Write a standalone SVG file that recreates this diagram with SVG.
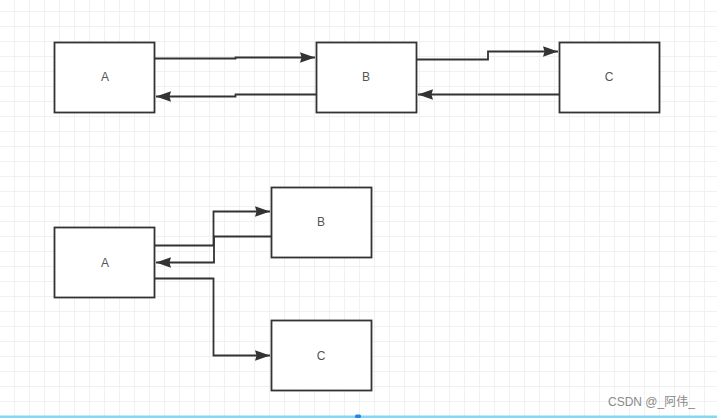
<svg xmlns="http://www.w3.org/2000/svg" width="717" height="418" viewBox="0 0 717 418">
  <defs>
    <pattern id="grid" x="0" y="12" width="15" height="15" patternUnits="userSpaceOnUse">
      <path d="M15 0 V15 M0 15 H15" fill="none" stroke="#ededed" stroke-width="1.5"/>
    </pattern>
    <marker id="arrow" markerUnits="userSpaceOnUse" markerWidth="16" markerHeight="12" refX="15" refY="6" orient="auto">
      <path d="M0,0.8 L15,6 L0,11.2 L1.5,6 Z" fill="#333"/>
    </marker>
    <style>
      .box { fill: #ffffff; stroke: #333; stroke-width: 1.8; }
      .label { font-family: "Liberation Sans", Arial, sans-serif; font-size: 12px; fill: #555; text-anchor: middle; dominant-baseline: central; }
      .edge { fill: none; stroke: #333; stroke-width: 1.8; marker-end: url(#arrow); }
      .mark { font-family: "Liberation Sans", "Noto Sans CJK SC", sans-serif; font-size: 12px; fill: #8a8a8a; }
    </style>
  </defs>

  <!-- canvas -->
  <rect width="717" height="418" fill="#ffffff"/>
  <rect width="717" height="418" fill="url(#grid)"/>

  <!-- upper chain: A <-> B <-> C -->
  <g id="top-a"><rect class="box" x="54.5" y="42.5" width="100" height="70"/><text class="label" x="105" y="77">A</text></g>
  <g id="top-b"><rect class="box" x="316.5" y="42.5" width="100" height="70"/><text class="label" x="366" y="77">B</text></g>
  <g id="top-c"><rect class="box" x="559.5" y="42.5" width="100" height="70"/><text class="label" x="609" y="77">C</text></g>

  <!-- lower fan-out: A -> B, A -> C, B -> A -->
  <g id="bot-a"><rect class="box" x="54.5" y="227.5" width="100" height="70"/><text class="label" x="105" y="263">A</text></g>
  <g id="bot-b"><rect class="box" x="271.5" y="187.5" width="100" height="70"/><text class="label" x="321" y="222">B</text></g>
  <g id="bot-c"><rect class="box" x="271.5" y="320.5" width="100" height="70"/><text class="label" x="321" y="356">C</text></g>

  <g id="connectors">
    <path class="edge" d="M155 58.5 H235.5 V57.5 H315"/>
    <path class="edge" d="M316 94.5 H235.5 V96.5 H156"/>
    <path class="edge" d="M417 59.5 H488 V51.5 H558"/>
    <path class="edge" d="M559 94.5 H418"/>
    <path class="edge" d="M155 245.5 H213.5 V211.5 H270"/>
    <path class="edge" d="M271 236.5 H214 V262.5 H156"/>
    <path class="edge" d="M155 278.5 H213.5 V355.5 H270"/>
  </g>

  <!-- footer strip -->
  <rect x="0" y="415.5" width="717" height="2.5" fill="#86d8f2"/>
  <rect x="355" y="414.5" width="6" height="3.5" rx="1.5" fill="#1e88e5"/>
  <text class="mark" x="608" y="406">CSDN @_阿伟_</text>
</svg>
